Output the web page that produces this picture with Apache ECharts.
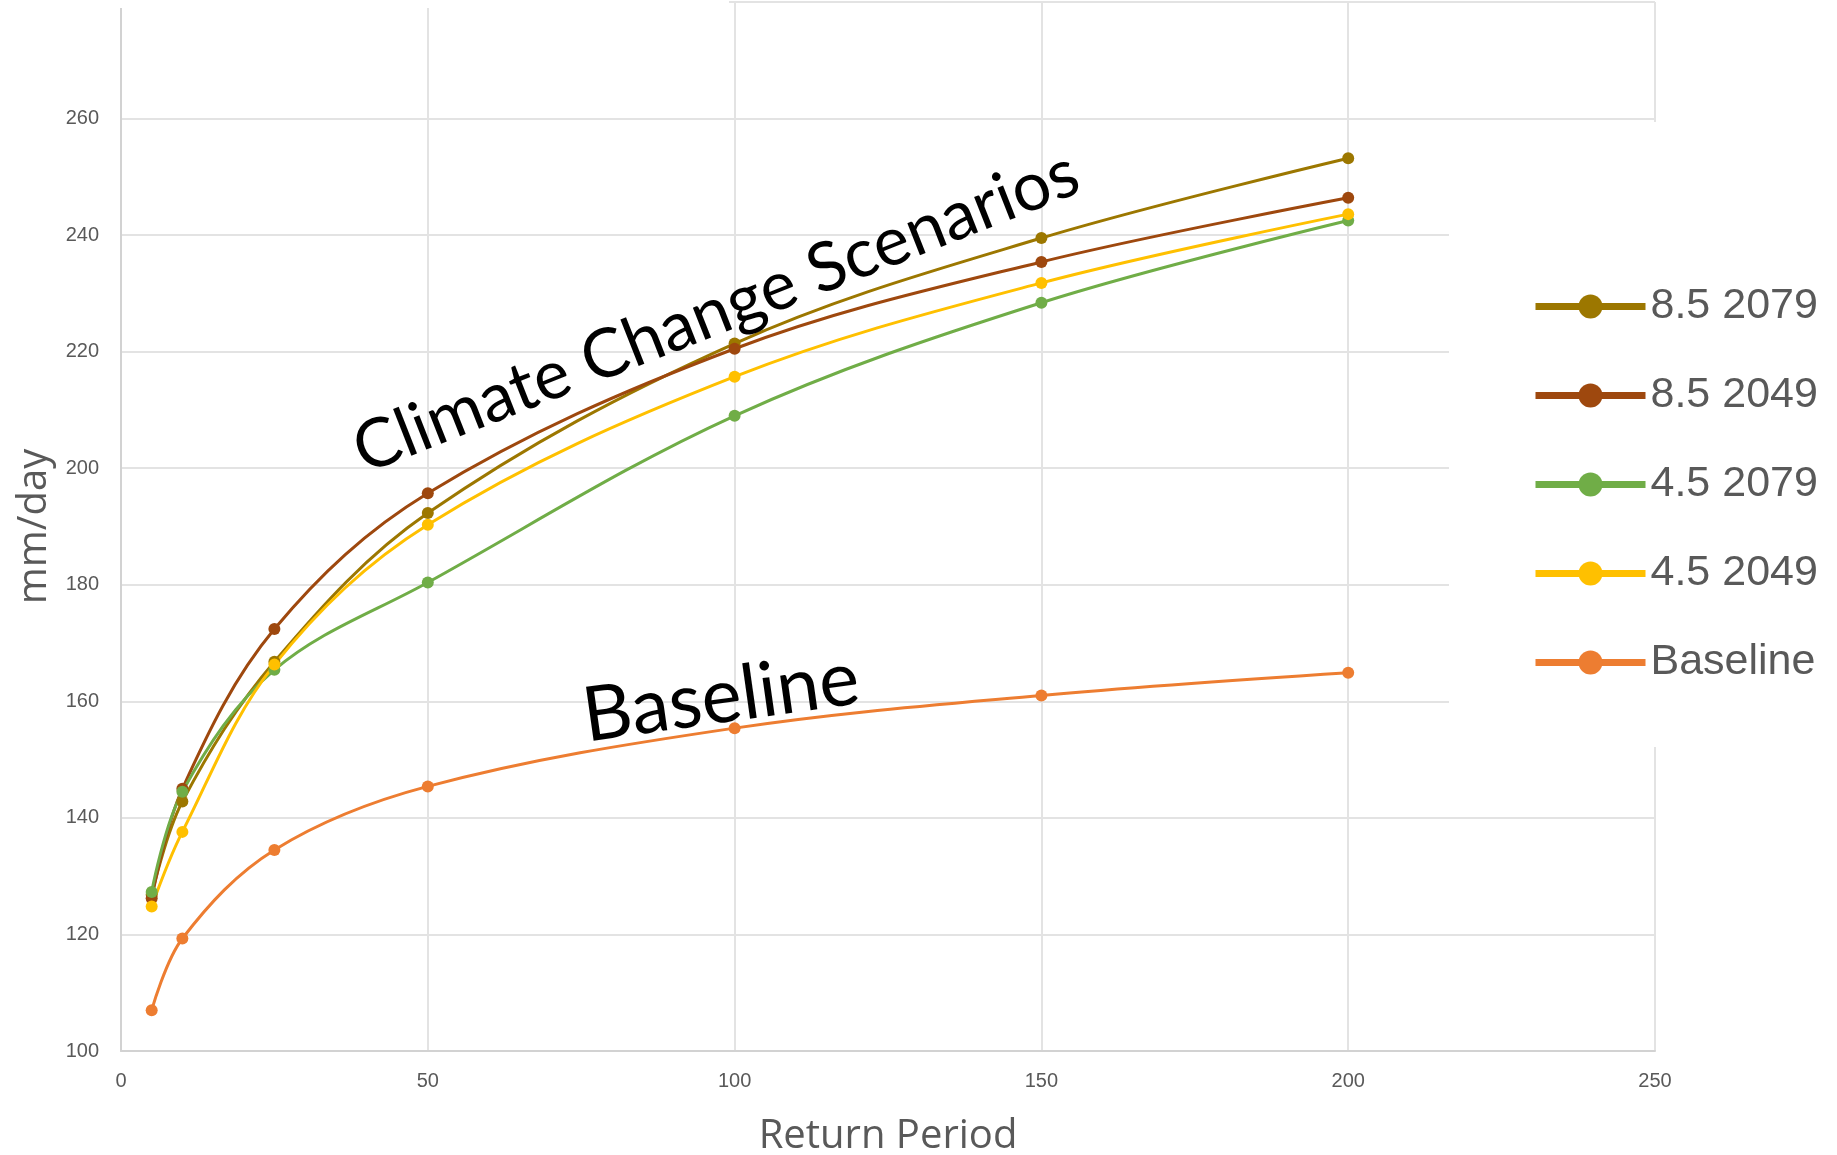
<!DOCTYPE html>
<html>
<head>
<meta charset="utf-8">
<script src="https://cdn.jsdelivr.net/npm/echarts@6/dist/echarts.min.js"></script>
<style>
  html, body { margin: 0; padding: 0; background: #ffffff; }
  #chart { width: 1837px; height: 1155px; }
</style>
</head>
<body>
<div id="chart"></div>
<script>
// Return periods (years) on the x axis
const returnPeriods = [5, 10, 25, 50, 100, 150, 200];

// Daily rainfall depth (mm/day) for each scenario
const rcp85_2079 = [126.8, 142.8, 166.8, 192.3, 221.4, 239.5, 253.2];
const rcp85_2049 = [126.2, 145.0, 172.4, 195.7, 220.5, 235.4, 246.4];
const rcp45_2079 = [127.3, 144.5, 165.4, 180.4, 209.0, 228.4, 242.5];
const rcp45_2049 = [124.8, 137.6, 166.3, 190.3, 215.7, 231.8, 243.6];
const baseline   = [107.0, 119.3, 134.5, 145.4, 155.4, 161.0, 164.9];

const seriesNames  = ['8.5 2079', '8.5 2049', '4.5 2079', '4.5 2049', 'Baseline'];
const seriesValues = [rcp85_2079, rcp85_2049, rcp45_2079, rcp45_2049, baseline];
const seriesColors = ['#9C7700', '#9E480E', '#70AD47', '#FFC000', '#ED7D31'];

// Axis ranges and tick steps
const xRange = { min: 0, max: 250, step: 50 };
const yRange = { min: 100, max: 280, step: 20 };

const axisGray = '#595959';
const gridGray = '#e3e3e3';

const chart = echarts.init(document.getElementById('chart'), null, { renderer: 'canvas' });

const series = seriesNames.map((name, i) => ({
  name: name,
  type: 'line',
  smooth: 0.35,
  symbol: 'circle',
  symbolSize: 12,
  showSymbol: true,
  color: seriesColors[i],
  lineStyle: { width: 3, color: seriesColors[i] },
  itemStyle: { color: seriesColors[i] },
  data: returnPeriods.map((p, j) => [p, seriesValues[i][j]]),
  z: 2
}));

const option = {
  backgroundColor: '#ffffff',
  animation: false,
  grid: { left: 121, right: 182, top: 2, bottom: 104, containLabel: false, outerBoundsMode: 'none' },
  xAxis: {
    type: 'value',
    min: xRange.min,
    max: xRange.max,
    interval: xRange.step,
    name: 'Return Period',
    nameLocation: 'middle',
    nameGap: 66,
    nameTextStyle: { fontFamily: 'Open Sans', fontSize: 40, color: axisGray },
    axisLine: { show: true, lineStyle: { color: '#d2d2d2', width: 2 } },
    axisTick: { show: false },
    axisLabel: { margin: 20, fontFamily: 'Liberation Sans', fontSize: 20, color: axisGray },
    splitLine: { show: true, lineStyle: { color: gridGray, width: 2 } }
  },
  yAxis: {
    type: 'value',
    min: yRange.min,
    max: yRange.max,
    interval: yRange.step,
    name: 'mm/day',
    nameLocation: 'middle',
    nameRotate: 90,
    nameGap: 66,
    nameTextStyle: { fontFamily: 'Open Sans', fontSize: 40, color: axisGray },
    axisLine: { show: true, lineStyle: { color: '#d2d2d2', width: 2 } },
    axisTick: { show: false },
    axisLabel: { margin: 22, fontFamily: 'Liberation Sans', fontSize: 20, color: axisGray, showMaxLabel: false },
    splitLine: { show: true, lineStyle: { color: gridGray, width: 2 } }
  },
  legend: {
    orient: 'vertical',
    left: 1527,
    top: 280,
    itemWidth: 110,
    itemHeight: 30,
    itemGap: 46,
    data: seriesNames,
    lineStyle: { width: 7 },
    textStyle: {
      fontFamily: 'Liberation Sans',
      fontSize: 43,
      color: axisGray
    },
    z: 6
  },
  graphic: [
    // blank panel behind the legend
    { type: 'rect', shape: { x: 1449, y: 122, width: 400, height: 625 }, style: { fill: '#ffffff' }, z: 3 },
    // blank strip along the top-left edge
    { type: 'rect', shape: { x: 100, y: 0, width: 629, height: 8 }, style: { fill: '#ffffff' }, z: 3 },
    {
      type: 'text', x: 716, y: 312, rotation: 21.5 * Math.PI / 180, z: 10,
      style: { text: 'Climate Change Scenarios', fontFamily: 'Lato', fontSize: 68, fill: '#000000', align: 'center', verticalAlign: 'middle' }
    },
    {
      type: 'text', x: 721, y: 698, rotation: 8 * Math.PI / 180, z: 10,
      style: { text: 'Baseline', fontFamily: 'Lato', fontSize: 76, fill: '#000000', align: 'center', verticalAlign: 'middle' }
    }
  ],
  series: series
};

chart.setOption(option);
</script>
</body>
</html>
